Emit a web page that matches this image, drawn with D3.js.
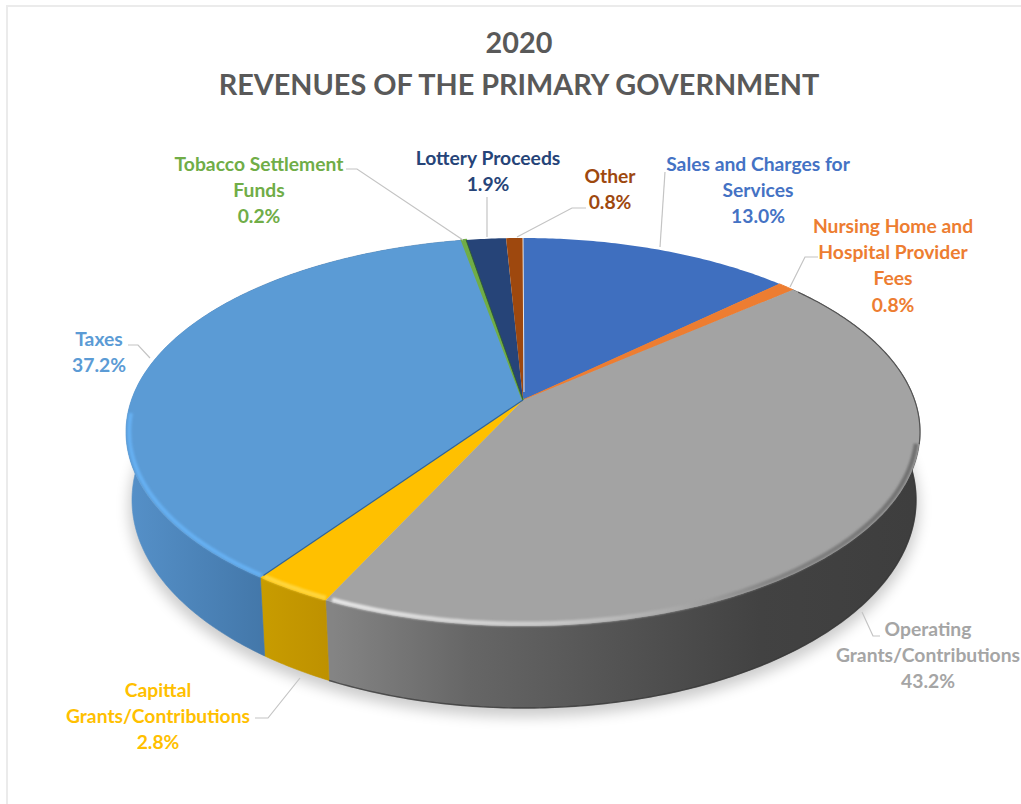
<!DOCTYPE html>
<html>
<head>
<meta charset="utf-8">
<script src="https://cdn.jsdelivr.net/npm/d3@7"></script>
<style>
  html, body { margin: 0; padding: 0; background: #fff; overflow: hidden; }
  text { font-family: Lato, "Open Sans", sans-serif; font-weight: 700; }
</style>
</head>
<body>
<svg id="chart" width="1021" height="804"></svg>
<script>
// Revenue shares, clockwise from twelve o'clock
const categories = [
  ["Sales and Charges for", "Services"],
  ["Nursing Home and", "Hospital Provider", "Fees"],
  ["Operating", "Grants/Contributions"],
  ["Capittal", "Grants/Contributions"],
  ["Taxes"],
  ["Tobacco Settlement", "Funds"],
  ["Lottery Proceeds"],
  ["Other"]
];
const shares = [13.0, 0.8, 43.2, 2.8, 37.2, 0.2, 1.9, 0.8];
const titleLines = ["2020", "REVENUES OF THE PRIMARY GOVERNMENT"];

const sliceColors = ["#3f6fbf", "#ed7d31", "#a3a3a3", "#ffc000", "#5b9bd5", "#70ad47", "#264478", "#9e480e"];
const labelColors = ["#4472c4", "#ed7d31", "#a5a5a5", "#ffc000", "#5b9bd5", "#70ad47", "#264478", "#9e480e"];

// Label anchor (centre x, first baseline) and leader polyline for each slice
const labelAnchors = [[758, 171], [893, 233], [928, 636], [158, 697], [99, 346], [259, 171], [488, 165], [610, 183]];
const leaders = [
  [[665, 172], [660, 247]],
  [[818, 257], [805, 257], [790, 287]],
  [[862, 612], [873, 636], [880, 636]],
  [[300, 678], [268, 718], [255, 718]],
  [[128, 345], [138, 345], [150, 358]],
  [[346, 169], [357, 169], [463, 240]],
  [[487, 197], [487, 237]],
  [[586, 208], [572, 208], [517, 237]]
];

// Tilted-disc geometry: the hub sits above the centre of the top ellipse
const hub = { x: 523, y: 400 };
const topRim = { cx: 523, cy: 432, rx: 397, ry: 194 };
const baseRim = { cx: 524, cy: 500, rx: 392, ry: 208 };
const farDepth = 162, nearDepth = 226;
const tilt = (farDepth - nearDepth) / (farDepth + nearDepth);
const planeH = farDepth * (1 - tilt);
const planeW = topRim.rx * Math.sqrt(1 - ((topRim.cy - hub.y) / topRim.ry) ** 2);
const deg = d => d * Math.PI / 180;

// Perspective projection of a clock angle onto the top face
function onTop(a, r = 1) {
  const u = Math.sin(a) * r, v = -Math.cos(a) * r;
  const w = 1 + tilt * v;
  return [hub.x + planeW * u / w, hub.y + planeH * v / w];
}
// The point straight below a rim point, taken on the base ellipse
function onBase(p) {
  const nx = (p[0] - topRim.cx) / topRim.rx, ny = (p[1] - topRim.cy) / topRim.ry;
  const len = Math.hypot(nx, ny);
  return [baseRim.cx + baseRim.rx * nx / len, baseRim.cy + baseRim.ry * ny / len];
}
const rimPoints = (a0, a1, r = 1) => {
  const n = Math.max(2, Math.ceil((a1 - a0) * 90));
  return d3.range(n + 1).map(i => onTop(a0 + (a1 - a0) * i / n, r));
};

const pie = d3.pie().sort(null).value(d => d)(shares);
const svg = d3.select("#chart");
const line = d3.line();
const defs = svg.append("defs");

defs.append("filter").attr("id", "soft").attr("x", "-10%").attr("y", "-10%").attr("width", "120%").attr("height", "120%")
  .append("feGaussianBlur").attr("stdDeviation", 1.3);
defs.append("filter").attr("id", "halo").attr("x", "-10%").attr("y", "-10%").attr("width", "120%").attr("height", "130%")
  .append("feGaussianBlur").attr("stdDeviation", 7);

// Wall shading runs left to right across each slice's visible side
function hGradient(id, stops) {
  const g = defs.append("linearGradient").attr("id", id).attr("gradientUnits", "userSpaceOnUse")
    .attr("x1", stops[0][0]).attr("x2", stops[stops.length - 1][0]).attr("y1", 0).attr("y2", 0);
  const span = stops[stops.length - 1][0] - stops[0][0];
  stops.forEach(s => g.append("stop").attr("offset", (s[0] - stops[0][0]) / span).attr("stop-color", s[1]));
}
hGradient("wall-grey", [[333, "#848484"], [470, "#666666"], [620, "#535353"], [760, "#424242"], [915, "#3e3e3e"]]);
hGradient("wall-blue", [[130, "#5590c8"], [265, "#4377a9"]]);
hGradient("wall-gold", [[262, "#c89c00"], [335, "#bd9000"]]);
hGradient("glint-grey", [[335, "#e6e6e6"], [560, "#c8c8c8"], [680, "#a8a8a8"], [770, "#858585"], [920, "#707070"]]);

const wallFill = { 2: "url(#wall-grey)", 3: "url(#wall-gold)", 4: "url(#wall-blue)" };

// Bevel highlights cover only the part of the rim facing the viewer
const bevels = [
  { slice: 2, from: deg(103), to: pie[2].endAngle - 0.012, color: "url(#glint-grey)", width: 4.5 },
  { slice: 3, from: pie[3].startAngle + 0.004, to: pie[3].endAngle - 0.004, color: "#ffd63c", width: 4.5 },
  { slice: 4, from: pie[4].startAngle + 0.004, to: deg(266), color: "#66b0f2", width: 4 }
];

// Frame of the chart area
svg.append("path").attr("fill", "none").attr("stroke", "#ebebeb").attr("stroke-width", 2)
  .attr("d", line([[7, 804], [7, 6], [1021, 6]]));

// Soft shadow under the disc
svg.append("ellipse").attr("cx", baseRim.cx).attr("cy", baseRim.cy + 7)
  .attr("rx", baseRim.rx + 3).attr("ry", baseRim.ry + 2)
  .attr("fill", "#000").attr("opacity", 0.2).attr("filter", "url(#halo)");

// Side walls for the three slices that reach the front of the disc
[2, 3, 4].forEach(i => {
  const s = pie[i];
  const outer = rimPoints(s.startAngle, s.endAngle);
  svg.append("path").attr("fill", wallFill[i])
    .attr("stroke", wallFill[i]).attr("stroke-width", 0.6)
    .attr("d", line(outer.concat(outer.map(onBase).reverse())) + "Z");
});

// Thin dark line along the lower edge of the grey wall
const greyBase = rimPoints(pie[2].startAngle, pie[2].endAngle).map(onBase);
svg.append("path").attr("fill", "none").attr("stroke", "#333").attr("stroke-width", 1.4).attr("opacity", 0.7)
  .attr("d", line(greyBase));

// Top face of every slice; the two slimmest get a stroke so they stay visible
const sliceStroke = { 1: 1, 5: 2.2 };
pie.forEach((s, i) => {
  svg.append("path").attr("fill", sliceColors[i])
    .attr("stroke", sliceStroke[i] ? sliceColors[i] : "none")
    .attr("stroke-width", sliceStroke[i] || 0)
    .attr("d", line([[hub.x, hub.y], ...rimPoints(s.startAngle, s.endAngle)]) + "Z");
});

// Rounded bevel where the top face meets the wall
bevels.forEach(b => {
  svg.append("path").attr("fill", "none").attr("stroke", b.color).attr("stroke-width", b.width)
    .attr("filter", "url(#soft)")
    .attr("d", line(rimPoints(b.from, b.to, 0.992)));
});

// Darker seams along the taxes edge and beside the tobacco sliver, pale seam after "Other"
svg.append("path").attr("fill", "none").attr("stroke", "#2f6397").attr("stroke-width", 1.2)
  .attr("d", line([[hub.x, hub.y], onTop(pie[4].startAngle, 0.99)]));
svg.append("path").attr("fill", "none").attr("stroke", "#2e5a2a").attr("stroke-width", 0.8)
  .attr("d", line([[hub.x, hub.y], onTop(pie[5].endAngle, 1)]));
svg.append("path").attr("fill", "none").attr("stroke", "#efe3da").attr("stroke-width", 1)
  .attr("d", line([[hub.x + 1, hub.y - 8], onTop(pie[7].endAngle, 1)]));

// Dark thin outline on the far right of the grey rim
svg.append("path").attr("fill", "none").attr("stroke", "#555").attr("stroke-width", 1.2)
  .attr("d", line(rimPoints(pie[2].startAngle + 0.02, deg(103))));

// Leader lines
svg.append("g").attr("fill", "none").attr("stroke", "#c4c4c4").attr("stroke-width", 1.2)
  .selectAll("path").data(leaders).join("path").attr("d", d => line(d));

// Two-line title
svg.append("g").attr("text-anchor", "middle").attr("fill", "#595959")
  .selectAll("text").data(titleLines).join("text")
  .attr("x", 519).attr("y", (d, i) => 53 + i * 42)
  .attr("font-size", 28.8).text(d => d);

// Category name and percentage next to each slice
const labels = svg.append("g").attr("text-anchor", "middle").attr("font-size", 19.3);
categories.forEach((lines, i) => {
  const [x, y] = labelAnchors[i];
  lines.concat(`${shares[i].toFixed(1)}%`).forEach((t, k) => {
    labels.append("text").attr("x", x).attr("y", y + k * 26.2).attr("fill", labelColors[i]).text(t);
  });
});
</script>
</body>
</html>
